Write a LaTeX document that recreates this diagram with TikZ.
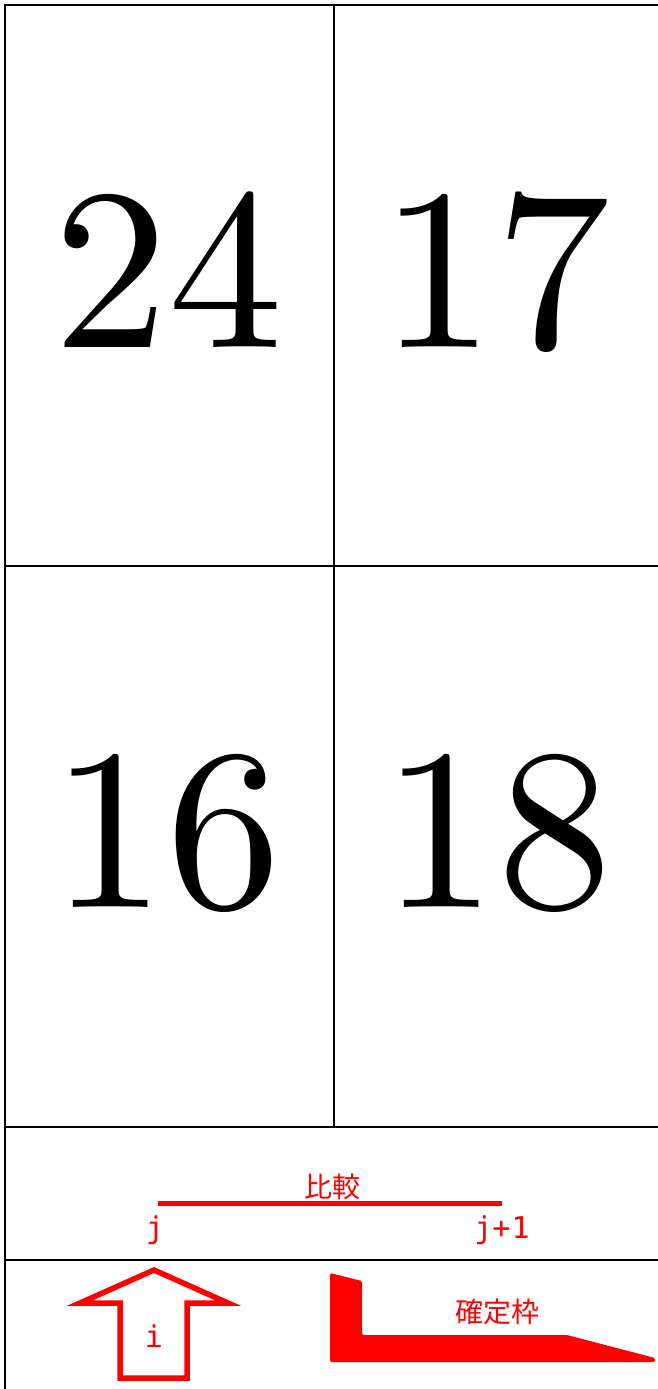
\documentclass[tikz,border=0pt]{standalone}
\usepackage{fontspec}
\newfontfamily\cjk{Noto Sans CJK JP}
\newfontfamily\monof{DejaVu Sans Mono}
\newfontfamily\lmten{lmroman10-regular.otf}
\definecolor{mred}{RGB}{255,0,0}
\begin{document}
\begin{tikzpicture}[x=1pt,y=-1pt,
  cell/.style={draw=black,line width=1.8pt,anchor=north west,inner sep=0pt,outer sep=0pt},
  num/.style={anchor=base,inner sep=0pt,font=\lmten\fontsize{230}{230}\selectfont},
  rlab/.style={text=mred,inner sep=0pt,font=\cjk\fontsize{28}{28}\selectfont},
  mlab/.style={text=mred,inner sep=0pt,font=\monof\fontsize{30}{30}\selectfont},
  redline/.style={draw=mred,line width=5pt},
]
\useasboundingbox (0,0) rectangle (658,1389);
\clip (0,0) rectangle (658,1389);
\fill[white] (0,0) rectangle (658,1389);
% grid cells
\node[cell,minimum width=329pt,minimum height=561pt] (c11) at (5,5) {};
\node[cell,minimum width=329pt,minimum height=561pt] (c12) at (334,5) {};
\node[cell,minimum width=329pt,minimum height=561pt] (c21) at (5,566) {};
\node[cell,minimum width=329pt,minimum height=561pt] (c22) at (334,566) {};
\node[cell,minimum width=680pt,minimum height=133pt] (cmpbox) at (5,1127) {};
\node[cell,minimum width=680pt,minimum height=160pt] (legbox) at (5,1260) {};
% numbers
\node[num] (n24) at (168,347) {24};
\node[num] (n17) at (495,347) {17};
\node[num] (n16) at (166,907) {16};
\node[num] (n18) at (497,907) {18};
% comparison
\coordinate (cmpL) at (158,1203);
\coordinate (cmpR) at (502,1203);
\draw[redline] (cmpL) -- (cmpR);
\node[rlab] (hikaku) at (332,1187) {比較};
\node[mlab,anchor=base] (jl) at (155,1238) {j};
\node[mlab,anchor=base] (jpl) at (502,1238) {j+\kern1pt 1};
% arrow i
\draw[draw=mred,line width=5.5pt,line join=miter] (154,1270) -- (228,1303) -- (187,1303) -- (187,1378) -- (120,1378) -- (120,1303) -- (80,1303) -- cycle;
\node[mlab,anchor=base] (il) at (154,1347) {i};
% kakuteiwaku
\fill[mred,rounded corners=1.5pt] (330,1273) -- (362,1281) -- (362,1335) -- (567,1335) -- (655,1358) -- (655,1362) -- (330,1362) -- cycle;
\node[rlab] (kakutei) at (497,1312) {確定枠};
\end{tikzpicture}
\end{document}
